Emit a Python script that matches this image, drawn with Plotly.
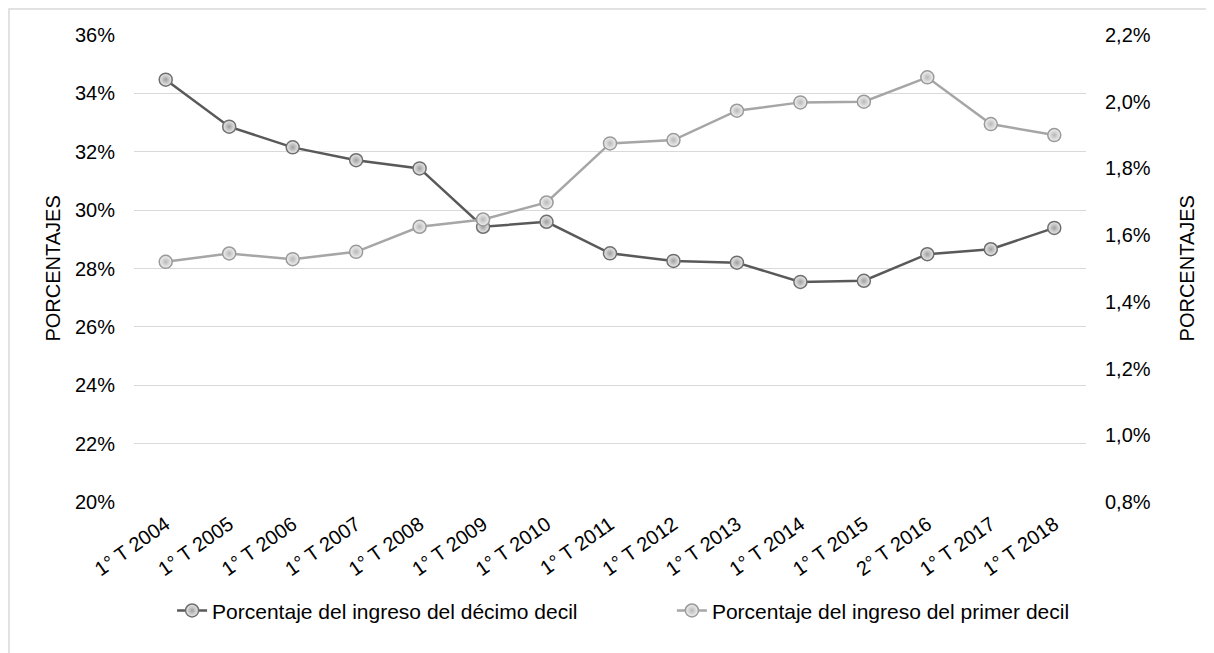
import plotly.graph_objects as go

periodos = ["1° T 2004", "1° T 2005", "1° T 2006", "1° T 2007", "1° T 2008",
            "1° T 2009", "1° T 2010", "1° T 2011", "1° T 2012", "1° T 2013",
            "1° T 2014", "1° T 2015", "2° T 2016", "1° T 2017", "1° T 2018"]

decimo_decil = [34.47, 32.86, 32.15, 31.71, 31.43, 29.43, 29.60, 28.52,
                28.26, 28.20, 27.54, 27.58, 28.49, 28.66, 29.39]

primer_decil = [1.52, 1.545, 1.528, 1.55, 1.625, 1.647, 1.698, 1.875,
                1.885, 1.973, 1.998, 2.0, 2.073, 1.933, 1.90]

nombre_decimo = "Porcentaje del ingreso del décimo decil"
nombre_primero = "Porcentaje del ingreso del primer decil"
titulo_eje = "PORCENTAJES"

familia = "Liberation Sans, Arial, sans-serif"
fuente = dict(family=familia, size=20, color="#000000")
fuente_leyenda = dict(family=familia, size=21, color="#000000")

fig = go.Figure()

fig.add_trace(go.Scatter(
    x=periodos, y=decimo_decil, name=nombre_decimo, mode="lines+markers",
    legend="legend",
    line=dict(color="#595959", width=2.5),
    marker=dict(symbol="circle", size=13, color="#ececec",
                gradient=dict(type="radial", color="#a0a0a0"),
                line=dict(color="#6f6f6f", width=1.5)),
))

fig.add_trace(go.Scatter(
    x=periodos, y=primer_decil, name=nombre_primero, mode="lines+markers",
    yaxis="y2", legend="legend2",
    line=dict(color="#a6a6a6", width=2.5),
    marker=dict(symbol="circle", size=13, color="#f2f2f2",
                gradient=dict(type="radial", color="#b8b8b8"),
                line=dict(color="#9a9a9a", width=1.5)),
))

# the page body adds an 8px margin, so the figure is sized to fit inside it
fig.update_layout(
    width=1206, height=645,
    margin=dict(l=126, r=128, t=27, b=151, autoexpand=False),
    paper_bgcolor="white", plot_bgcolor="white",
    font=fuente,
    separators=",.",
    showlegend=True,
    legend=dict(orientation="h", x=0.040, y=-0.233, xanchor="left", yanchor="middle",
                font=fuente_leyenda, bgcolor="rgba(0,0,0,0)"),
    legend2=dict(orientation="h", x=0.565, y=-0.233, xanchor="left", yanchor="middle",
                 font=fuente_leyenda, bgcolor="rgba(0,0,0,0)"),
    xaxis=dict(type="category", range=[-0.5, 14.5], tickangle=-35, automargin=False,
               showgrid=False, showline=False, ticks="", tickfont=fuente,
               ticklabelstandoff=6),
    yaxis=dict(range=[20, 36], dtick=2, ticksuffix="%", tickformat="d", automargin=False,
               showgrid=True, gridcolor="#d9d9d9", gridwidth=1.3,
               zeroline=False, showline=False, ticks="", tickfont=fuente,
               ticklabelstandoff=18),
    yaxis2=dict(range=[0.8, 2.2], dtick=0.2, tick0=0.8, tickformat=".1f", ticksuffix="%",
                overlaying="y", side="right", showgrid=False, zeroline=False,
                showline=False, ticks="", tickfont=fuente, automargin=False,
                ticklabelstandoff=18),
    annotations=[
        dict(text=titulo_eje, xref="paper", yref="paper", x=-0.0861, y=0.5,
             textangle=-90, showarrow=False, font=fuente, xanchor="center", yanchor="middle"),
        dict(text=titulo_eje, xref="paper", yref="paper", x=1.106, y=0.5,
             textangle=-90, showarrow=False, font=fuente, xanchor="center", yanchor="middle"),
    ],
    shapes=[dict(type="rect", xref="paper", yref="paper",
                 x0=-0.1313, x1=1.2, y0=-0.4, y1=1.0557,
                 line=dict(color="#d9d9d9", width=1.5), fillcolor="rgba(0,0,0,0)",
                 layer="below")],
)

fig.write_html("out.html")
